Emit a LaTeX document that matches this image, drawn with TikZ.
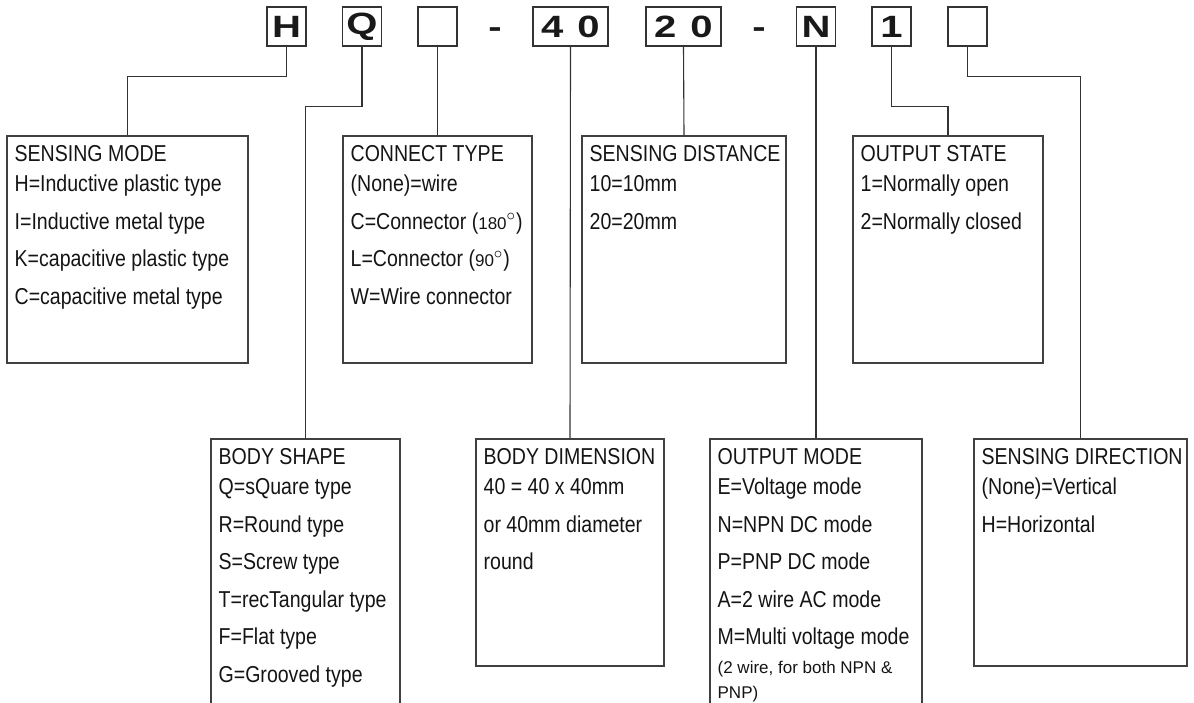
\documentclass[tikz,border=0pt]{standalone}
\usepackage{fontspec}
\setmainfont{Liberation Sans}[FakeStretch=0.85]
\newfontfamily\codefont{Liberation Sans}[FakeStretch=1.3]
\newfontfamily\notefont{Liberation Sans}
\usetikzlibrary{fit}

\begin{document}
\begin{tikzpicture}[x=0.5pt, y=-0.5pt,
  code/.style={draw=black!80, line width=0.7pt, minimum width=19.5pt, minimum height=19.5pt, inner sep=0pt,
    font=\codefont\bfseries\fontsize{15.4}{15.4}\selectfont, text=black!90},
  widecode/.style={code, minimum width=37.5pt},
  hyphen/.style={anchor=base, inner sep=0pt, font=\codefont\bfseries\fontsize{15.4}{15.4}\selectfont, text=black!90},
  infobox/.style={draw=black!75, line width=0.75pt, inner sep=0pt},
  info/.style={anchor=north west, inner sep=0pt, align=left, text=black!92,
    font=\fontsize{11.5}{15.3}\selectfont},
  link/.style={draw=black!80, line width=0.55pt}]
\useasboundingbox (0,0) rectangle (1194,702);
\clip (0,0) rectangle (1194,702);

\node[code] (h) at (286.5,26.5) {H};
\node[code] (q) at (362,26.5) {Q};
\node[code] (c) at (437.5,26.5) {};
\node[hyphen] (d1) at (495,37.5) {-};
\node[widecode] (size) at (570.5,26.5) {4\hspace{7pt}0};
\node[widecode] (range) at (683.5,26.5) {2\hspace{7pt}0};
\node[hyphen] (d2) at (759,37.5) {-};
\node[code] (n) at (816,26.5) {N};
\node[code] (one) at (891.5,26.5) {1};
\node[code] (e) at (967.5,26.5) {};

\node[infobox, fit={(7,136) (248,363)}] (mode) {};
\node[infobox, fit={(343,136) (532,363)}] (conn) {};
\node[infobox, fit={(582,136) (786,363)}] (dist) {};
\node[infobox, fit={(853,136) (1043,363)}] (state) {};
\node[infobox, fit={(211,439) (400,720)}] (shape) {};
\node[infobox, fit={(476,439) (664,666)}] (dim) {};
\node[infobox, fit={(710,439) (922,720)}] (out) {};
\node[infobox, fit={(974,439) (1187,666)}] (dir) {};

\node[info] (mode-txt) at ([shift={(8,9.5)}]mode.north west)
  {SENSING MODE\\H=Inductive plastic type\\[3.45pt]I=Inductive metal type\\[3.45pt]K=capacitive plastic type\\[3.45pt]C=capacitive metal type};
\node[info] (conn-txt) at ([shift={(8,9.5)}]conn.north west)
  {CONNECT TYPE\\(None)=wire\\[3.45pt]C=Connector ({\notefont\fontsize{8.5}{10}\selectfont 180}$^{\circ}$)\\[3.45pt]L=Connector ({\notefont\fontsize{8.5}{10}\selectfont 90}$^{\circ}$)\\[3.45pt]W=Wire connector};
\node[info] (dist-txt) at ([shift={(8,9.5)}]dist.north west)
  {SENSING DISTANCE\\10=10mm\\[3.45pt]20=20mm};
\node[info] (state-txt) at ([shift={(8,9.5)}]state.north west)
  {OUTPUT STATE\\1=Normally open\\[3.45pt]2=Normally closed};
\node[info] (shape-txt) at ([shift={(8,9.5)}]shape.north west)
  {BODY SHAPE\\Q=sQuare type\\[3.45pt]R=Round type\\[3.45pt]S=Screw type\\[3.45pt]T=recTangular type\\[3.45pt]F=Flat type\\[3.45pt]G=Grooved type};
\node[info] (dim-txt) at ([shift={(8,9.5)}]dim.north west)
  {BODY DIMENSION\\40 = 40 x 40mm\\[3.45pt]or 40mm diameter\\[3.45pt]round};
\node[info] (out-txt) at ([shift={(8,9.5)}]out.north west)
  {OUTPUT MODE\\E=Voltage mode\\[3.45pt]N=NPN DC mode\\[3.45pt]P=PNP DC mode\\[3.45pt]A=2 wire AC mode\\[3.45pt]M=Multi voltage mode\\[-1pt]
   {\notefont\fontsize{8.5}{10}\selectfont (2 wire, for both NPN \&}\\[-3pt]{\notefont\fontsize{8.5}{10}\selectfont PNP)}};
\node[info] (dir-txt) at ([shift={(8,9.5)}]dir.north west)
  {SENSING DIRECTION\\(None)=Vertical\\[3.45pt]H=Horizontal};

\draw[link] (h.south) -- ++(0,30) -| (mode.north);
\draw[link] (q.south) -- ++(0,60) -| (shape.north);
\draw[link] (c.south) -- (conn.north);
\draw[link] (size.south) -- (dim.north);
\draw[link] (range.south) -- (dist.north);
\draw[link] (n.south) -- (out.north);
\draw[link] (one.south) -- ++(0,60) -| (state.north);
\draw[link] (e.south) -- ++(0,30) -| (dir.north);
\end{tikzpicture}
\end{document}
